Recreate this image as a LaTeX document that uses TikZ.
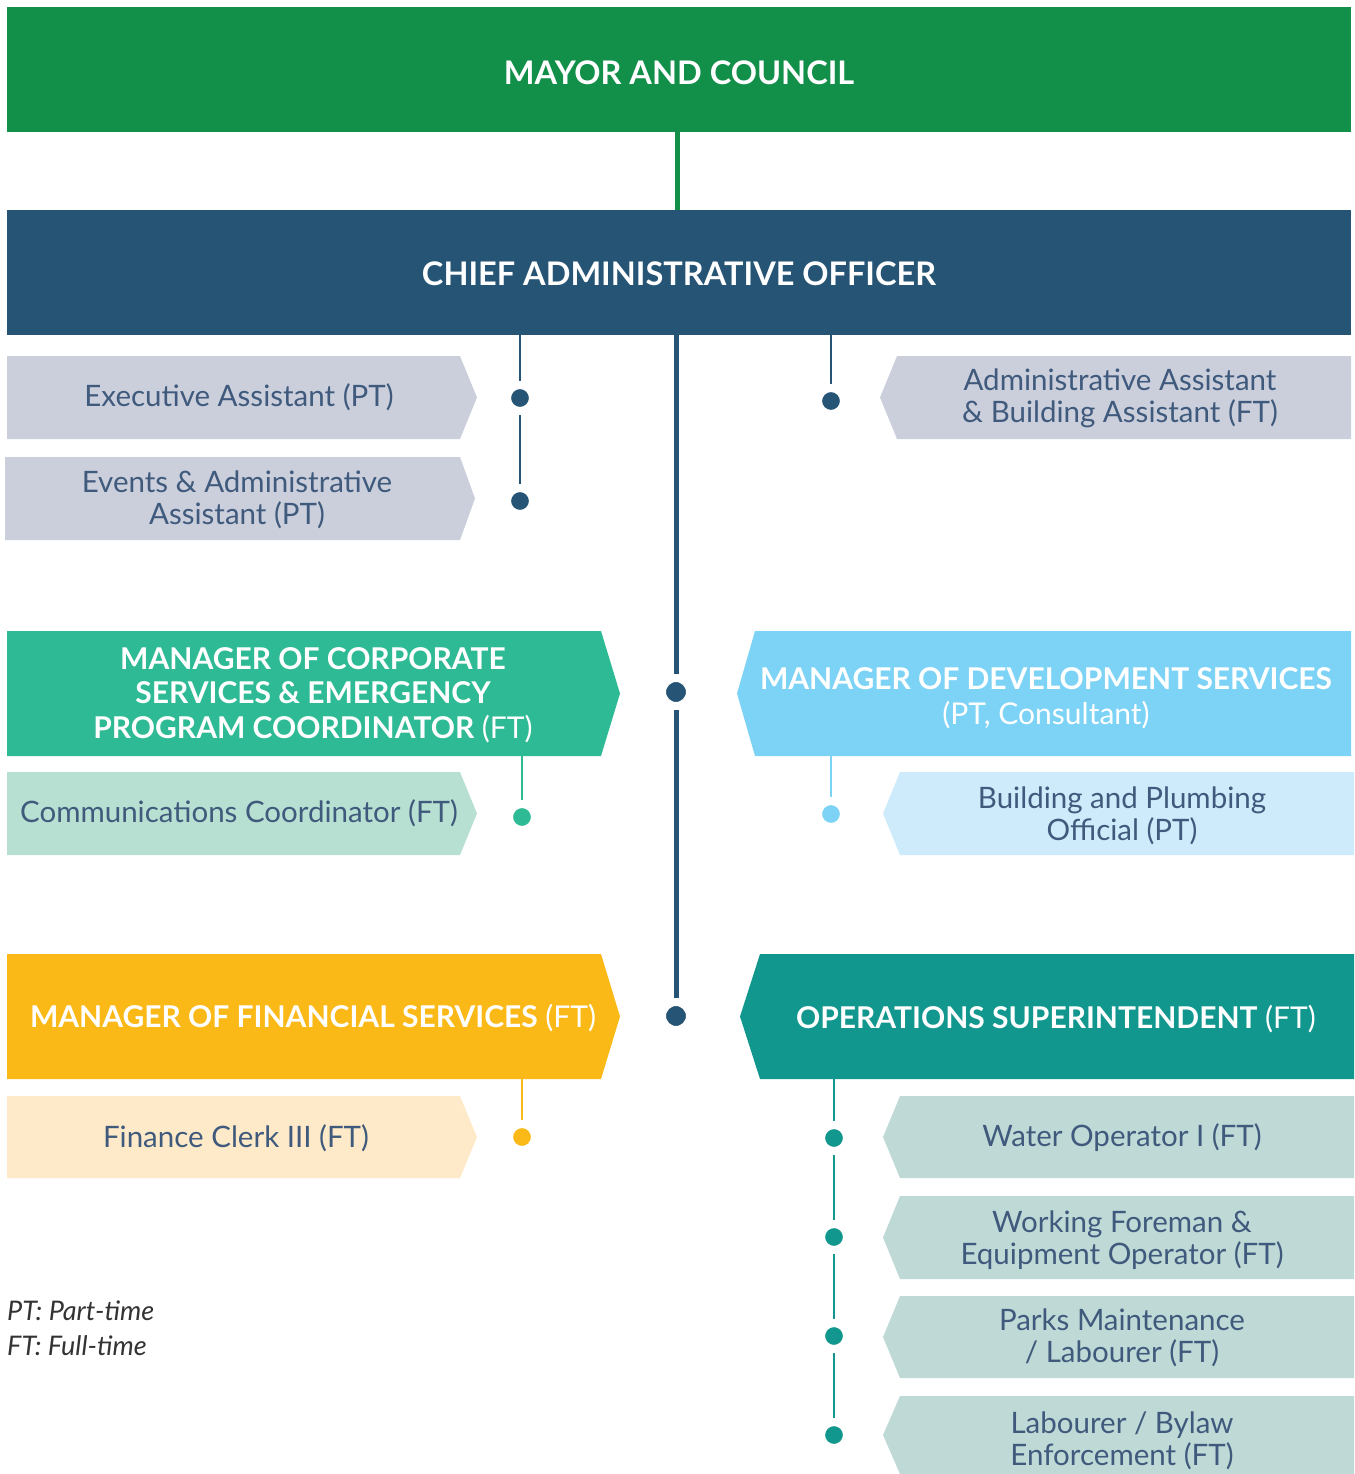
\documentclass[tikz,border=0pt]{standalone}
\usepackage{fontspec}
\setmainfont{Lato}
\usepackage{xcolor}
\usetikzlibrary{positioning,backgrounds}

\definecolor{mayorgreen}{HTML}{12904A}
\definecolor{caoblue}{HTML}{265474}
\definecolor{assistgray}{HTML}{CBCFDC}
\definecolor{corpgreen}{HTML}{2EBA94}
\definecolor{corplight}{HTML}{B8E0D2}
\definecolor{devblue}{HTML}{7DD3F5}
\definecolor{devlight}{HTML}{CDEBFA}
\definecolor{finyellow}{HTML}{FBB917}
\definecolor{finlight}{HTML}{FEEAC8}
\definecolor{opsteal}{HTML}{12978E}
\definecolor{opslight}{HTML}{BFD9D6}
\definecolor{labeltext}{HTML}{3F5A7C}
\definecolor{legendgray}{HTML}{333333}

% tab pointing right: x left, x corner, x tip, y top, y bottom, colour
\newcommand{\tabright}[6]{\fill[#6] (#1,#4) -- (#2,#4) -- (#3,{(#4+#5)/2}) -- (#2,#5) -- (#1,#5) -- cycle;}
% tab pointing left: x tip, x corner, x right, y top, y bottom, colour
\newcommand{\tableft}[6]{\fill[#6] (#3,#4) -- (#2,#4) -- (#1,{(#4+#5)/2}) -- (#2,#5) -- (#3,#5) -- cycle;}

\tikzset{
  headtext/.style={text=white, inner sep=0pt, font=\fontsize{32.5}{38}\selectfont\bfseries},
  mgrtext/.style={text=white, align=center, inner sep=0pt,
    font=\fontsize{30}{34.5}\selectfont},
  subtext/.style={text=labeltext, align=center, inner sep=0pt,
    font=\fontsize{29.5}{32}\selectfont},
  dotmark/.style={circle, inner sep=0pt, minimum size=26pt, draw=white, line width=8pt},
  bigdot/.style={dotmark, minimum size=28pt},
  linkline/.style={line width=2pt},
}

\begin{document}
\begin{tikzpicture}[x=1pt, y=-1pt]
    \useasboundingbox (0,0) rectangle (1354,1474);

    % Top levels
    \fill[mayorgreen] (7,7) rectangle (1351,132);
    \node[headtext] (mayor) at (679,73) {MAYOR AND COUNCIL};
    \fill[caoblue] (7,210) rectangle (1351,335);
    \node[headtext] (cao) at (679,274) {CHIEF ADMINISTRATIVE OFFICER};

    % Assistants of the CAO
    \tabright{7}{460}{477}{356}{439}{assistgray}
    \node[subtext] (exec) at (239,397) {Executive Assistant (PT)};
    \tabright{5}{460}{475}{457}{540}{assistgray}
    \node[subtext] (events) at (237,500) {Events \& Administrative\\Assistant (PT)};
    \tableft{880}{897}{1351}{356}{439}{assistgray}
    \node[subtext] (admin) at (1120,398) {Administrative Assistant\\\& Building Assistant (FT)};

    \node[dotmark, fill=caoblue] (execdot) at (520,398) {};
    \node[dotmark, fill=caoblue] (eventsdot) at (520,501) {};
    \node[dotmark, fill=caoblue] (admindot) at (831,401) {};

    % Corporate services
    \tabright{7}{601}{620}{631}{756}{corpgreen}
    \node[mgrtext] (corp) at (313,695) {\bfseries MANAGER OF CORPORATE\\\bfseries SERVICES \& EMERGENCY\\\textbf{PROGRAM COORDINATOR} (FT)};
    \tabright{7}{460}{477}{772}{855}{corplight}
    \node[subtext] (comm) at (239,813) {Communications Coordinator (FT)};
    \node[dotmark, fill=corpgreen] (commdot) at (522,817) {};

    % Development services
    \tableft{737}{755}{1351}{631}{756}{devblue}
    \node[mgrtext] (dev) at (1046,698) {\textbf{MANAGER OF DEVELOPMENT SERVICES}\\(PT, Consultant)};
    \tableft{883}{900}{1354}{772}{855}{devlight}
    \node[subtext] (build) at (1122,816) {Building and Plumbing\\Official (PT)};
    \node[dotmark, fill=devblue] (builddot) at (831,814) {};

    % Financial services
    \tabright{7}{601}{620}{954}{1079}{finyellow}
    \node[mgrtext] (fin) at (313,1018) {\textbf{MANAGER OF FINANCIAL SERVICES} (FT)};
    \tabright{7}{460}{477}{1096}{1178}{finlight}
    \node[subtext] (clerk) at (236,1138) {Finance Clerk III (FT)};
    \node[dotmark, fill=finyellow] (clerkdot) at (522,1137) {};

    % Operations
    \tableft{740}{760}{1354}{954}{1079}{opsteal}
    \node[mgrtext] (ops) at (1056,1019) {\textbf{OPERATIONS SUPERINTENDENT} (FT)};
    \tableft{883}{900}{1354}{1096}{1178}{opslight}
    \node[subtext] (water) at (1122,1138) {Water Operator I (FT)};
    \tableft{883}{900}{1354}{1196}{1279}{opslight}
    \node[subtext] (foreman) at (1122,1240) {Working Foreman \&\\Equipment Operator (FT)};
    \tableft{883}{900}{1354}{1296}{1378}{opslight}
    \node[subtext] (parks) at (1122,1338) {Parks Maintenance\\/ Labourer (FT)};
    \tableft{883}{900}{1354}{1396}{1474}{opslight}
    \node[subtext] (bylaw) at (1122,1441) {Labourer / Bylaw\\Enforcement (FT)};
    \node[dotmark, fill=opsteal] (waterdot) at (834,1138) {};
    \node[dotmark, fill=opsteal] (foremandot) at (834,1237) {};
    \node[dotmark, fill=opsteal] (parksdot) at (834,1336) {};
    \node[dotmark, fill=opsteal] (bylawdot) at (834,1435) {};

    % Trunk dots
    \node[bigdot, fill=caoblue] (corpdot) at (676,692) {};
    \node[bigdot, fill=caoblue] (findot) at (676,1016) {};

    % Legend
    \node[anchor=north west, inner sep=0pt, align=left, text=legendgray,
      font=\fontsize{27}{35}\selectfont\itshape] (legend) at (7,1301) {PT: Part-time\\FT: Full-time};

    % Connectors
    \begin{scope}[on background layer]
        \draw[mayorgreen, line width=5pt] (mayor -| 677,0) -- (cao -| 677,0);
        \draw[caoblue, line width=5pt] (cao -| findot) -- (findot);
        \draw[caoblue, linkline] (cao -| eventsdot) -- (eventsdot);
        \draw[caoblue, linkline] (cao -| admindot) -- (admindot);
        \draw[corpgreen, linkline] (corp -| commdot) -- (commdot);
        \draw[devblue, linkline] (dev -| builddot) -- (builddot);
        \draw[finyellow, linkline] (fin -| clerkdot) -- (clerkdot);
        \draw[opsteal, linkline] (ops -| bylawdot) -- (bylawdot);
    \end{scope}
\end{tikzpicture}
\end{document}
